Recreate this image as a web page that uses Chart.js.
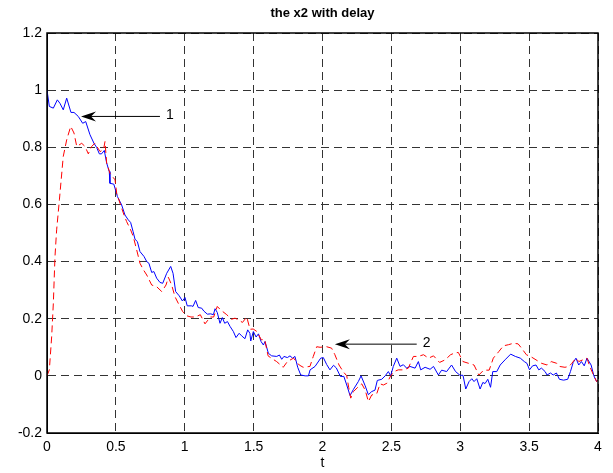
<!DOCTYPE html>
<html lang="en">
<head>
    <meta charset="UTF-8">
    <title>the x2 with delay</title>
    <script src="https://cdn.jsdelivr.net/npm/chart.js"></script>
    <style>
        body { margin: 0; background: #fff; }
        .box { width: 613px; height: 473px; position: relative; }
    </style>
</head>
<body>
<div class="box"><canvas id="grafico"></canvas></div>
<script>
    // x2 (blue, solid)
    const blueT = [0, 0.017, 0.046, 0.075, 0.094, 0.118, 0.143, 0.174, 0.196, 0.227, 0.259, 0.281, 0.312, 0.341, 0.36, 0.38, 0.396, 0.416, 0.433, 0.452,
        0.457, 0.485, 0.511, 0.542, 0.566, 0.59, 0.607, 0.625, 0.639, 0.656, 0.675, 0.704, 0.724, 0.74, 0.76, 0.776, 0.796, 0.82, 0.84, 0.869,
        0.898, 0.915, 0.934, 0.96, 0.983, 1.002, 1.018, 1.05, 1.06, 1.079, 1.098, 1.123, 1.138, 1.164, 1.189, 1.208, 1.22, 1.236, 1.256, 1.273,
        1.29, 1.31, 1.329, 1.353, 1.372, 1.395, 1.413, 1.437, 1.457, 1.473, 1.479, 1.498, 1.518, 1.535, 1.554, 1.571, 1.583, 1.607, 1.631, 1.668,
        1.687, 1.704, 1.72, 1.745, 1.764, 1.783, 1.8, 1.82, 1.842, 1.874, 1.898, 1.91, 1.946, 1.987, 2.006, 2.03, 2.054, 2.08, 2.1, 2.13,
        2.155, 2.176, 2.2, 2.225, 2.26, 2.28, 2.31, 2.333, 2.357, 2.381, 2.398, 2.43, 2.455, 2.478, 2.495, 2.514, 2.539, 2.563, 2.587, 2.611,
        2.635, 2.672, 2.696, 2.713, 2.745, 2.781, 2.806, 2.841, 2.865, 2.901, 2.937, 2.966, 2.998, 3.02, 3.04, 3.064, 3.084, 3.1, 3.12, 3.144,
        3.164, 3.18, 3.2, 3.22, 3.236, 3.265, 3.29, 3.325, 3.366, 3.4, 3.436, 3.465, 3.484, 3.503, 3.525, 3.55, 3.57, 3.59, 3.616, 3.63,
        3.655, 3.675, 3.698, 3.72, 3.75, 3.78, 3.8, 3.82, 3.84, 3.86, 3.88, 3.9, 3.92, 3.95, 3.97, 3.99, 4.0];
    const blueV = [1.0, 0.943, 0.937, 0.966, 0.954, 0.931, 0.972, 0.922, 0.922, 0.908, 0.884, 0.890, 0.844, 0.814, 0.80, 0.777, 0.777, 0.789, 0.745, 0.715,
        0.674, 0.671, 0.628, 0.598, 0.563, 0.546, 0.537, 0.505, 0.478, 0.47, 0.435, 0.418, 0.40, 0.394, 0.362, 0.365, 0.342, 0.327, 0.324, 0.359,
        0.383, 0.359, 0.295, 0.28, 0.262, 0.274, 0.245, 0.245, 0.243, 0.264, 0.239, 0.237, 0.227, 0.216, 0.217, 0.214, 0.235, 0.222, 0.184, 0.204,
        0.184, 0.19, 0.173, 0.155, 0.134, 0.149, 0.14, 0.13, 0.161, 0.149, 0.122, 0.155, 0.136, 0.147, 0.12, 0.108, 0.12, 0.079, 0.07, 0.068,
        0.073, 0.058, 0.068, 0.064, 0.07, 0.062, 0.068, 0.03, 0.003, 0.0, 0.0, 0.021, 0.033, 0.062, 0.064, 0.04, 0.021, 0.037, 0.028, -0.002,
        -0.002, -0.032, -0.069, -0.047, -0.02, 0.0, -0.035, -0.066, -0.055, -0.05, -0.016, -0.012, 0.0, 0.015, 0.0, 0.033, 0.062, 0.033, 0.039, 0.027,
        0.033, 0.027, 0.05, 0.021, 0.03, 0.023, 0.033, 0.003, 0.02, 0.015, 0.038, 0.015, 0.002, 0.002, -0.046, -0.02, -0.01, -0.02, -0.01, -0.046,
        -0.023, -0.027, -0.012, -0.04, 0.015, 0.015, 0.038, 0.056, 0.076, 0.068, 0.062, 0.05, 0.044, 0.021, 0.035, 0.038, 0.021, 0.027, 0.015, 0.003,
        0.01, 0.003, 0.01, -0.012, -0.015, -0.012, 0.015, 0.047, 0.062, 0.038, 0.05, 0.035, 0.062, 0.038, 0.0, -0.02, -0.015];

    // x2 com atraso (red, dashed)
    const redT = [0, 0.017, 0.034, 0.046, 0.058, 0.07, 0.09, 0.118, 0.143, 0.172, 0.196, 0.216, 0.252, 0.276, 0.30, 0.324, 0.348, 0.385, 0.41, 0.421,
        0.433, 0.457, 0.494, 0.506, 0.53, 0.559, 0.578, 0.607, 0.626, 0.651, 0.675, 0.70, 0.724, 0.76, 0.796, 0.833, 0.864, 0.881, 0.905, 0.929,
        0.953, 0.985, 1.016, 1.045, 1.077, 1.113, 1.147, 1.186, 1.21, 1.236, 1.26, 1.305, 1.34, 1.365, 1.39, 1.419, 1.45, 1.474, 1.497, 1.524,
        1.556, 1.58, 1.605, 1.628, 1.667, 1.715, 1.745, 1.79, 1.831, 1.86, 1.909, 1.933, 1.958, 1.982, 2.03, 2.066, 2.09, 2.12, 2.15, 2.176,
        2.19, 2.205, 2.225, 2.26, 2.285, 2.31, 2.333, 2.357, 2.394, 2.418, 2.442, 2.467, 2.495, 2.52, 2.55, 2.587, 2.623, 2.66, 2.696, 2.733,
        2.77, 2.806, 2.85, 2.89, 2.93, 2.96, 2.986, 3.02, 3.06, 3.1, 3.135, 3.17, 3.21, 3.24, 3.28, 3.313, 3.35, 3.385, 3.42, 3.445,
        3.48, 3.52, 3.55, 3.59, 3.63, 3.66, 3.7, 3.72, 3.76, 3.79, 3.81, 3.84, 3.86, 3.89, 3.92, 3.94, 3.97, 3.99, 4.0];
    const redV = [0, 0.021, 0.138, 0.254, 0.418, 0.511, 0.616, 0.768, 0.826, 0.873, 0.85, 0.803, 0.814, 0.803, 0.777, 0.803, 0.814, 0.785, 0.791, 0.82,
        0.745, 0.709, 0.686, 0.639, 0.604, 0.563, 0.54, 0.511, 0.488, 0.441, 0.394, 0.371, 0.353, 0.318, 0.312, 0.295, 0.318, 0.345, 0.318, 0.277,
        0.254, 0.225, 0.21, 0.206, 0.206, 0.214, 0.182, 0.206, 0.206, 0.243, 0.231, 0.214, 0.198, 0.202, 0.196, 0.187, 0.206, 0.163, 0.164, 0.155,
        0.126, 0.128, 0.07, 0.062, 0.05, 0.03, 0.05, 0.062, 0.038, 0.03, 0.033, 0.068, 0.102, 0.1, 0.102, 0.097, 0.074, 0.038, 0.015, 0,
        -0.04, -0.078, -0.055, -0.038, -0.028, -0.05, -0.09, -0.067, -0.062, -0.028, -0.032, -0.026, 0, 0.015, 0.021, 0.021, 0.027, 0.068, 0.068, 0.074,
        0.062, 0.07, 0.047, 0.056, 0.074, 0.08, 0.082, 0.05, 0.044, 0.038, 0.003, 0.02, 0.02, 0.062, 0.085, 0.105, 0.109, 0.114, 0.112, 0.097,
        0.074, 0.065, 0.056, 0.044, 0.038, 0.05, 0.044, 0.033, 0.03, 0.033, 0.044, 0.062, 0.05, 0.056, 0.062, 0.033, 0, -0.02, -0.014];

    const xTicks = [0, 0.5, 1, 1.5, 2, 2.5, 3, 3.5, 4];
    const yTicks = [-0.2, 0, 0.2, 0.4, 0.6, 0.8, 1, 1.2];
    const xTickLabels = ['0', '0.5', '1', '1.5', '2', '2.5', '3', '3.5', '4'];
    const yTickLabels = ['-0.2', '0', '0.2', '0.4', '0.6', '0.8', '1', '1.2'];

    // setas: [ponta t, ponta v, cauda t, texto]
    const setas = [
        [0.247, 0.908, 0.82, '1'],
        [2.09, 0.111, 2.684, '2']
    ];

    function pontos(ts, vs) {
        return ts.map((t, i) => ({ x: t, y: vs[i] }));
    }

    const fonte = "'Liberation Sans', Arial, sans-serif";

    const moldura = {
        id: 'moldura',
        afterDraw(chart) {
            const c = chart.ctx;
            const a = chart.chartArea;
            const sx = chart.scales.x, sy = chart.scales.y;
            c.save();
            c.strokeStyle = '#000';
            c.lineWidth = 1.5;
            c.strokeRect(a.left, a.top, a.right - a.left, a.bottom - a.top);

            // setas com rótulo
            c.fillStyle = '#000';
            c.lineWidth = 1;
            c.font = '14px ' + fonte;
            c.textBaseline = 'middle';
            setas.forEach(s => {
                const x1 = sx.getPixelForValue(s[0]);
                const y1 = sy.getPixelForValue(s[1]);
                const x2 = sx.getPixelForValue(s[2]);
                c.beginPath();
                c.moveTo(x2, y1);
                c.lineTo(x1 + 8, y1);
                c.stroke();
                c.beginPath();
                c.moveTo(x1, y1);
                c.lineTo(x1 + 15, y1 - 5);
                c.lineTo(x1 + 10, y1);
                c.lineTo(x1 + 15, y1 + 5);
                c.closePath();
                c.fill();
                c.fillText(s[3], x2 + 6, y1 - 1);
            });

            // título
            c.font = 'bold 13px ' + fonte;
            c.textAlign = 'center';
            c.fillText('the x2 with delay', (a.left + a.right) / 2, 13);
            c.restore();
        }
    };

    const ctx = document.getElementById('grafico').getContext('2d');
    const grafico = new Chart(ctx, {
        type: 'line',
        data: {
            datasets: [{
                label: 'x2 delay',
                data: pontos(redT, redV),
                borderColor: '#ff0000',
                borderWidth: 1,
                borderDash: [7, 4],
                pointRadius: 0,
                fill: false,
                tension: 0
            }, {
                label: 'x2',
                data: pontos(blueT, blueV),
                borderColor: '#0000ff',
                borderWidth: 1,
                pointRadius: 0,
                fill: false,
                tension: 0
            }]
        },
        options: {
            responsive: true,
            maintainAspectRatio: false,
            animation: false,
            layout: { padding: { top: 33, right: 15, left: 0, bottom: 0 } },
            plugins: {
                legend: { display: false },
                tooltip: { enabled: false },
                title: { display: false }
            },
            scales: {
                x: {
                    type: 'linear',
                    min: 0,
                    max: 4,
                    afterBuildTicks: s => { s.ticks = xTicks.map(v => ({ value: v })); },
                    afterFit: s => { s.height = 40; },
                    ticks: {
                        color: '#000',
                        padding: 6,
                        maxRotation: 0,
                        font: { family: fonte, size: 14 },
                        callback: (v, i) => xTickLabels[i]
                    },
                    grid: { color: '#333', drawTicks: false, lineWidth: 1 },
                    border: { display: true, color: '#000', width: 1, dash: [8, 5] },
                    title: {
                        display: true,
                        text: 't',
                        color: '#000',
                        font: { family: fonte, size: 14 },
                        padding: { top: 0, bottom: 1 }
                    }
                },
                y: {
                    type: 'linear',
                    min: -0.2,
                    max: 1.2,
                    afterBuildTicks: s => { s.ticks = yTicks.map(v => ({ value: v })); },
                    afterFit: s => { s.width = 47; },
                    ticks: {
                        color: '#000',
                        padding: 5,
                        font: { family: fonte, size: 14 },
                        callback: (v, i) => yTickLabels[i]
                    },
                    grid: { color: '#333', drawTicks: false, lineWidth: 1 },
                    border: { display: true, color: '#000', width: 1, dash: [8, 5] }
                }
            }
        },
        plugins: [moldura]
    });
</script>
</body>
</html>
